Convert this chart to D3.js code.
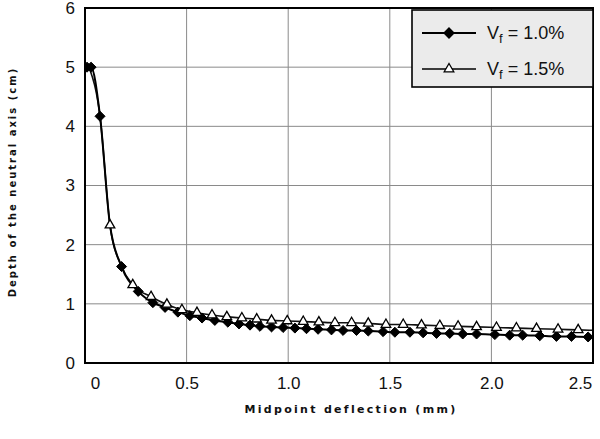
<!DOCTYPE html>
<html>
<head>
<meta charset="utf-8">
<script src="https://cdn.jsdelivr.net/npm/d3@7"></script>
<style>
  body { margin: 0; background: #fff; }
  svg { display: block; }
</style>
</head>
<body>
<svg id="chart" width="600" height="439"></svg>
<script>
// ---- data ----
const xTicks = [0, 0.5, 1.0, 1.5, 2.0, 2.5];
const xTickLabels = ["0", "0.5", "1.0", "1.5", "2.0", "2.5"];
const yTicks = [0, 1, 2, 3, 4, 5, 6];
const yTickLabels = ["0", "1", "2", "3", "4", "5", "6"];

const seriesNames = ["1.0%", "1.5%"];

// Vf = 1.0% (diamonds); the point at 0.123 lies under a triangle marker (no visible diamond)
const vf10X = [0.01, 0.03, 0.074, 0.123, 0.18, 0.262, 0.334, 0.394, 0.457, 0.516, 0.576, 0.639, 0.703, 0.758, 0.812, 0.861, 0.918, 0.975, 1.033, 1.090, 1.147, 1.213, 1.270, 1.336, 1.394, 1.467, 1.525, 1.599, 1.664, 1.730, 1.795, 1.859, 1.927, 2.017, 2.090, 2.154, 2.238, 2.320, 2.394, 2.476];
const vf10Y = [5.0, 5.0, 4.17, 2.33, 1.63, 1.21, 1.02, 0.94, 0.86, 0.80, 0.76, 0.72, 0.69, 0.66, 0.64, 0.62, 0.61, 0.60, 0.59, 0.58, 0.57, 0.56, 0.55, 0.55, 0.54, 0.53, 0.52, 0.52, 0.51, 0.50, 0.50, 0.49, 0.49, 0.48, 0.47, 0.47, 0.46, 0.45, 0.45, 0.44];
const vf10Shown = vf10X.map(v => v !== 0.123);

// Vf = 1.5% (triangles); points at 0.02, 0.074 and 0.18 lie under diamond markers
const vf15X = [0.02, 0.074, 0.123, 0.18, 0.235, 0.325, 0.403, 0.477, 0.551, 0.625, 0.698, 0.772, 0.845, 0.918, 0.995, 1.074, 1.151, 1.230, 1.312, 1.394, 1.481, 1.566, 1.656, 1.746, 1.836, 1.927, 2.025, 2.123, 2.222, 2.328, 2.427, 2.53];
const vf15Y = [5.0, 4.17, 2.33, 1.63, 1.32, 1.12, 0.99, 0.90, 0.85, 0.81, 0.78, 0.76, 0.74, 0.72, 0.71, 0.70, 0.69, 0.68, 0.68, 0.67, 0.65, 0.65, 0.64, 0.63, 0.62, 0.61, 0.60, 0.59, 0.58, 0.57, 0.56, 0.55];
const vf15Shown = vf15X.map(v => v !== 0.02 && v !== 0.074 && v !== 0.18);

// ---- layout ----
const svg = d3.select("#chart");
const L = 85, R = 593, T = 8, B = 363;
const x = d3.scaleLinear().domain([0, 2.5]).range([L, R]);
const y = d3.scaleLinear().domain([0, 6]).range([B, T]);

svg.append("defs").append("clipPath").attr("id", "clip")
  .append("rect").attr("x", L).attr("y", T).attr("width", R - L).attr("height", B - T);

// gridlines
const grid = svg.append("g");
grid.selectAll("line.h").data(yTicks.filter(d => d > 0 && d < 6)).join("line")
  .attr("x1", L).attr("x2", R).attr("y1", d => y(d)).attr("y2", d => y(d))
  .attr("stroke", "#8a8a8a").attr("stroke-width", 1);
grid.selectAll("line.v").data(xTicks.filter(d => d > 0 && d < 2.5)).join("line")
  .attr("y1", T).attr("y2", B).attr("x1", d => x(d)).attr("x2", d => x(d))
  .attr("stroke", "#8a8a8a").attr("stroke-width", 1);

// axes (labels only)
const font = "'Liberation Sans', Arial, sans-serif";
const xAxis = svg.append("g").attr("transform", `translate(0,${B})`)
  .call(d3.axisBottom(x).tickValues(xTicks).tickFormat((d, i) => xTickLabels[i]).tickSize(0).tickPadding(14));
xAxis.select(".domain").remove();
xAxis.selectAll("text").attr("font-family", font).attr("font-size", 17).attr("fill", "#111");
xAxis.selectAll("text").filter((d, i) => i === 0).attr("dx", 10);
xAxis.selectAll("text").filter((d, i) => i === xTicks.length - 1).attr("dx", -13);

const yAxis = svg.append("g").attr("transform", `translate(${L},0)`)
  .call(d3.axisLeft(y).tickValues(yTicks).tickFormat((d, i) => yTickLabels[i]).tickSize(0).tickPadding(10));
yAxis.select(".domain").remove();
yAxis.selectAll("text").attr("font-family", font).attr("font-size", 17).attr("fill", "#111");

// lines
const plot = svg.append("g").attr("clip-path", "url(#clip)");
const line = d3.line().x(d => x(d[0])).y(d => y(d[1])).curve(d3.curveMonotoneX);
const d10 = vf10X.map((v, i) => [v, vf10Y[i], vf10Shown[i]]);
const d15 = vf15X.map((v, i) => [v, vf15Y[i], vf15Shown[i]]);

plot.append("path").attr("d", line(d15)).attr("fill", "none").attr("stroke", "#111").attr("stroke-width", 1.6);
plot.append("path").attr("d", line(d10)).attr("fill", "none").attr("stroke", "#000").attr("stroke-width", 2);

const diamond = d3.symbol().type(d3.symbolDiamond2).size(64);
const triangle = d3.symbol().type(d3.symbolTriangle).size(40);

plot.selectAll("path.dia").data(d10.filter(d => d[2])).join("path")
  .attr("d", diamond).attr("transform", d => `translate(${x(d[0])},${y(d[1])})`)
  .attr("fill", "#000").attr("stroke", "#000").attr("stroke-width", 1);
plot.selectAll("path.tri").data(d15.filter(d => d[2])).join("path")
  .attr("d", triangle).attr("transform", d => `translate(${x(d[0])},${y(d[1])})`)
  .attr("fill", "#fff").attr("stroke", "#000").attr("stroke-width", 1.3);

// frame
svg.append("rect").attr("x", L).attr("y", T).attr("width", R - L).attr("height", B - T)
  .attr("fill", "none").attr("stroke", "#000").attr("stroke-width", 2);

// legend
const lg = svg.append("g");
lg.append("rect").attr("x", 412).attr("y", 10).attr("width", 181).attr("height", 77)
  .attr("fill", "#ebebeb").attr("stroke", "#000").attr("stroke-width", 1.6);
const legendRows = [
  { name: seriesNames[0], sym: diamond, fill: "#000", yy: 33, sw: 2 },
  { name: seriesNames[1], sym: triangle, fill: "#fff", yy: 69, sw: 1.6 }
];
legendRows.forEach(r => {
  lg.append("line").attr("x1", 422).attr("x2", 476).attr("y1", r.yy).attr("y2", r.yy)
    .attr("stroke", "#000").attr("stroke-width", r.sw);
  lg.append("path").attr("d", r.sym).attr("transform", `translate(449,${r.yy})`)
    .attr("fill", r.fill).attr("stroke", "#000").attr("stroke-width", 1.3);
  const t = lg.append("text").attr("x", 487).attr("y", r.yy + 6)
    .attr("font-family", font).attr("font-size", 18).attr("fill", "#111");
  t.append("tspan").text("V");
  t.append("tspan").attr("font-size", 13).attr("dy", 4).text("f");
  t.append("tspan").attr("dy", -4).text(" = " + r.name);
});

// axis titles
svg.append("text").attr("x", 351).attr("y", 413).attr("text-anchor", "middle")
  .attr("font-family", "'DejaVu Sans', sans-serif").attr("font-weight", "bold")
  .attr("font-size", 11).attr("letter-spacing", 2.3).attr("fill", "#111")
  .text("Midpoint deflection (mm)");
svg.append("text").attr("transform", "translate(16,182) rotate(-90)").attr("text-anchor", "middle")
  .attr("font-family", "'DejaVu Sans', sans-serif").attr("font-weight", "bold")
  .attr("font-size", 10).attr("letter-spacing", 2.0).attr("fill", "#111")
  .text("Depth of the neutral axis (cm)");
</script>
</body>
</html>
